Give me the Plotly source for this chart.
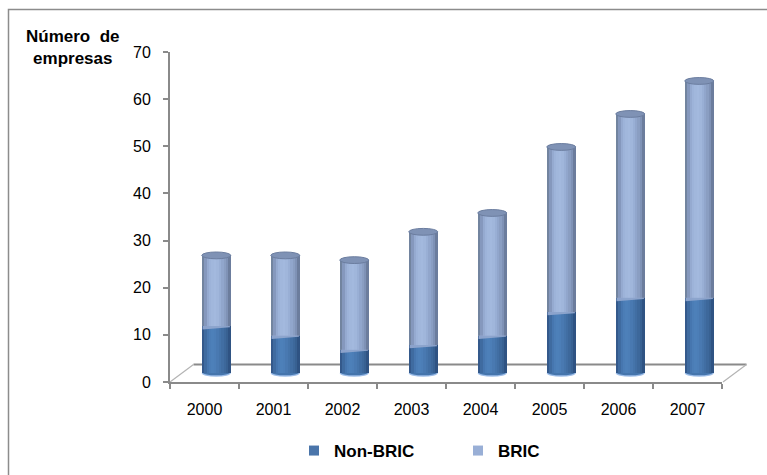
import plotly.graph_objects as go

# Number of companies per year, split by origin
years = ["2000", "2001", "2002", "2003", "2004", "2005", "2006", "2007"]
non_bric = [10, 8, 5, 6, 8, 13, 16, 16]
bric = [15, 17, 19, 24, 26, 35, 39, 46]
y_ticks = [0, 10, 20, 30, 40, 50, 60, 70]

series_names = ["Non-BRIC", "BRIC"]
legend_colors = ["#4a75aa", "#99afd6"]

# cylinder shading, left edge -> right edge
nb_shade = ["#34598b", "#3f6ba0", "#4676af", "#4b7db6", "#4d80b9", "#4c7eb7",
            "#4979b1", "#4574aa", "#416ea3", "#3d689b", "#386192", "#2f5383"]
br_shade = ["#72849f", "#8598bd", "#95aad0", "#9db3d9", "#a1b7dc", "#a3b9de",
            "#a0b6db", "#99afd5", "#91a6cc", "#8a9ec2", "#7f92b6", "#6c7d9d"]

FONT = "Liberation Sans, Arial, sans-serif"

# plot area in pixels (767 x 475 page)
W, H = 767, 475
PL, PR, PT, PB = 170, 722, 52, 382


def px_x(px):
    return (px - PL) / (PR - PL)


def px_y(py):
    return (PB - py) / (PB - PT)


# oblique depth of the 3-D floor (pixels)
DEPTH_DX, DEPTH_DY = 23.5, 17.5
n_cat = len(years)
cat_px = (PR - PL) / n_cat
unit_px = (PB - PT) / (y_ticks[-1] - y_ticks[0])
dx_cat = (DEPTH_DX / 2) / cat_px
dy_val = (DEPTH_DY / 2) / unit_px

bar_w = 0.42
n_strips = len(nb_shade)
strip_w = bar_w / n_strips

fig = go.Figure()

totals = [a + b for a, b in zip(non_bric, bric)]
for values, bases, shades in [(non_bric, [0] * n_cat, nb_shade), (bric, non_bric, br_shade)]:
    for i, col in enumerate(shades):
        fig.add_trace(go.Bar(
            x=years, y=values, base=bases,
            width=strip_w * 1.15, offset=-bar_w / 2 + i * strip_w,
            marker=dict(color=col, line=dict(width=0)),
            xaxis="x2", yaxis="y2", showlegend=False, hoverinfo="skip",
        ))

# legend entries (placed on the front axes so that they get drawn)
for name, col in zip(series_names, legend_colors):
    fig.add_trace(go.Scatter(
        x=[years[0]], y=[None], mode="markers", name=name,
        marker=dict(symbol="square", size=10, color=col),
        xaxis="x", yaxis="y", hoverinfo="skip",
    ))

shapes = []
# floor of the 3-D plot
grey = "#8a8a8a"
shapes.append(dict(type="line", xref="paper", yref="paper", layer="below",
                   x0=px_x(PL + DEPTH_DX), y0=px_y(PB - DEPTH_DY),
                   x1=px_x(PR + DEPTH_DX + 1), y1=px_y(PB - DEPTH_DY),
                   line=dict(color=grey, width=2)))
shapes.append(dict(type="line", xref="paper", yref="paper", layer="below",
                   x0=px_x(PL), y0=px_y(PB), x1=px_x(PL + DEPTH_DX), y1=px_y(PB - DEPTH_DY),
                   line=dict(color="#b4b4b4", width=1.2)))
shapes.append(dict(type="line", xref="paper", yref="paper", layer="below",
                   x0=px_x(PR + 1), y0=px_y(PB), x1=px_x(PR + DEPTH_DX + 1), y1=px_y(PB - DEPTH_DY),
                   line=dict(color="#b4b4b4", width=1.2)))

# chart frame
shapes.append(dict(type="rect", xref="paper", yref="paper", layer="below",
                   x0=px_x(8.5), y0=px_y(H + 5), x1=px_x(W + 5), y1=px_y(9.5),
                   line=dict(color="#8c8c8c", width=1.5), fillcolor="rgba(0,0,0,0)"))

cap_h = 3.4 / unit_px
for i, (nb, tot) in enumerate(zip(non_bric, totals)):
    xl, xr = i - bar_w / 2, i + bar_w / 2
    # bottom rim of each cylinder
    shapes.append(dict(type="circle", xref="x2", yref="y2", layer="below",
                       x0=xl, x1=xr, y0=-cap_h, y1=cap_h,
                       fillcolor="#9dbde8", line=dict(width=0)))
    shapes.append(dict(type="circle", xref="x2", yref="y2", layer="below",
                       x0=xl + 0.01, x1=xr - 0.01, y0=-cap_h * 0.6, y1=cap_h * 1.2,
                       fillcolor="#4575ac", line=dict(width=0)))
    # front edge of the upper cylinder hanging over the lower one
    shapes.append(dict(type="path", xref="x2", yref="y2", layer="above",
                       path=(f"M{xl + 0.012},{nb} L{xr - 0.012},{nb} "
                             f"L{xr - 0.012},{nb - cap_h * 0.35} "
                             f"L{xl + 0.012},{nb - cap_h * 1.0} Z"),
                       fillcolor="#94a9cf", line=dict(width=0), opacity=0.9))
    # top face
    shapes.append(dict(type="circle", xref="x2", yref="y2", layer="above",
                       x0=xl, x1=xr, y0=tot - cap_h, y1=tot + cap_h,
                       fillcolor="#7f92b5", line=dict(color="#6b7d9f", width=1)))

annotations = [dict(
    text="<b>Número\u00a0 de<br>empresas</b>", xref="paper", yref="paper",
    x=px_x(73), y=px_y(48), xanchor="center", yanchor="middle", showarrow=False,
    align="center", font=dict(family=FONT, size=17, color="black"),
)]

fig.update_layout(
    width=W, height=H,
    margin=dict(l=PL, r=W - PR, t=PT, b=H - PB, pad=0, autoexpand=False),
    paper_bgcolor="white", plot_bgcolor="white",
    barmode="overlay", bargap=0,
    font=dict(family=FONT, size=16, color="black"),
    xaxis=dict(type="category", categoryorder="array", categoryarray=years,
               range=[-0.5, n_cat - 0.5], showgrid=False, zeroline=False,
               showline=True, linecolor=grey, linewidth=2,
               ticks="outside", ticklen=5, tickwidth=1.5, tickcolor=grey,
               tickson="boundaries", ticklabelstandoff=12, automargin=False,
               tickfont=dict(family=FONT, size=16, color="black")),
    yaxis=dict(range=[y_ticks[0], y_ticks[-1]], tickvals=y_ticks, showgrid=False,
               zeroline=False, showline=True, linecolor=grey, linewidth=2,
               ticks="outside", ticklen=5, tickwidth=1.5, tickcolor=grey,
               ticklabelstandoff=9, automargin=False,
               tickfont=dict(family=FONT, size=16, color="black")),
    xaxis2=dict(type="category", categoryorder="array", categoryarray=years,
                overlaying="x", anchor="y2",
                range=[-0.5 - dx_cat, n_cat - 0.5 - dx_cat], visible=False),
    yaxis2=dict(overlaying="y", anchor="x2",
                range=[y_ticks[0] - dy_val, y_ticks[-1] - dy_val], visible=False),
    legend=dict(orientation="h", xref="container", yref="container",
                x=294 / W, y=(H - 451) / H, xanchor="left", yanchor="middle",
                entrywidth=119, entrywidthmode="pixels",
                font=dict(family=FONT, size=17, color="black", weight="bold"),
                bgcolor="rgba(0,0,0,0)"),
    shapes=shapes,
    annotations=annotations,
)

fig.write_html("out.html")
